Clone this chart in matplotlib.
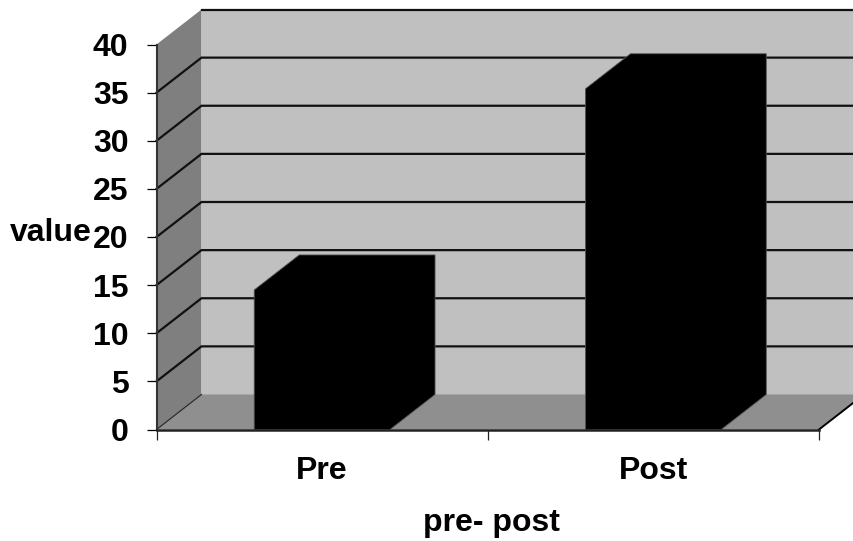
import matplotlib
matplotlib.use("Agg")
from matplotlib import pyplot as plt
from matplotlib.patches import Polygon

categories = ["Pre", "Post"]
values = [14.5, 35.4]
y_ticks = [0, 5, 10, 15, 20, 25, 30, 35, 40]

plt.rcParams['font.family'] = ['Liberation Sans', 'DejaVu Sans']
plt.rcParams['font.weight'] = 'bold'

W, H = 854, 541
fig = plt.figure(figsize=(W / 100, H / 100), dpi=100)
# front plane of the 3d box
ax = fig.add_axes([156.5 / W, 1 - 429.5 / H, 662.5 / W, 385 / H])
ax.set_xlim(0, 2)
ax.set_ylim(0, 40)
ax.patch.set_visible(False)

# depth of the box in data units
dx = 45 / 331.25
dy = 35 / 9.625
bar_w = 0.41
label_size = 23


def poly(pts, color, z, edge='none', lw=0):
    ax.add_patch(Polygon(pts, closed=True, facecolor=color, edgecolor=edge,
                         linewidth=lw, zorder=z, clip_on=False))


# back wall, side wall, floor
poly([(dx, dy), (2 + dx, dy), (2 + dx, 40 + dy), (dx, 40 + dy)], '#c0c0c0', 1)
poly([(0, 0), (dx, dy), (dx, 40 + dy), (0, 40)], '#7f7f7f', 1)
poly([(0, 0), (2, 0), (2 + dx, dy), (dx, dy)], '#8f8f8f', 1)

# gridlines across side and back walls, the top one only on the back wall
for v in y_ticks[1:-1]:
    ax.plot([0, dx, 2 + dx], [v, v + dy, v + dy], color='#111111', lw=1.6,
            solid_joinstyle='miter', zorder=2, clip_on=False)
ax.plot([dx, 2 + dx], [40 + dy, 40 + dy], color='#111111', lw=1.6, zorder=2, clip_on=False)
ax.plot([0, dx], [0, dy], color='#222222', lw=0.8, zorder=2, clip_on=False)
ax.plot([2, 2 + dx], [0, dy], color='black', lw=1.4, zorder=2, clip_on=False)

# bars
for i, v in enumerate(values):
    x0 = i + 0.5 - bar_w / 2
    x1 = i + 0.5 + bar_w / 2
    poly([(x0, 0), (x1, 0), (x1 + dx, dy), (x1 + dx, v + dy), (x0 + dx, v + dy), (x0, v)],
         'black', 3, '#555555', 0.6)

for s in ['top', 'right']:
    ax.spines[s].set_visible(False)
ax.spines['left'].set_color('#333333')
ax.spines['left'].set_linewidth(1.5)
ax.spines['bottom'].set_color('#222222')
ax.spines['bottom'].set_linewidth(1.8)
ax.spines['left'].set_zorder(4)
ax.spines['bottom'].set_zorder(4)

ax.set_yticks(y_ticks)
ax.set_yticklabels([str(v) for v in y_ticks], fontsize=label_size, fontweight='bold')
ax.tick_params(axis='y', length=7.2, width=0.9, pad=13, color='black')
ax.set_xticks([0, 1, 2])
ax.set_xticklabels([])
ax.tick_params(axis='x', length=7.2, width=0.9, color='#222222')
ax.set_xticks([0.5, 1.5], minor=True)
ax.set_xticklabels(categories, minor=True, fontsize=label_size, fontweight='bold')
ax.tick_params(axis='x', which='minor', length=0, pad=19)

fig.text(50.5 / W, 1 - 233 / H, "value", fontsize=label_size, fontweight='bold', ha='center', va='center')
fig.text(491 / W, 1 - 523 / H, "pre- post", fontsize=label_size, fontweight='bold', ha='center', va='center')

fig.savefig("out.png", dpi=100)
